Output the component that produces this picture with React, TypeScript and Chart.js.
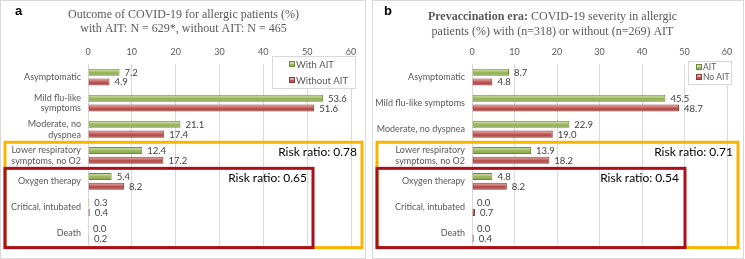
import React, { useEffect, useRef } from "react";
import { Chart, registerables } from "chart.js";

Chart.register(...registerables);

// ---------- DATA ----------
const categoriesA: (string | string[])[] = [
  "Asymptomatic",
  ["Mild flu-like", "symptoms"],
  ["Moderate, no", "dyspnea"],
  ["Lower respiratory", "symptoms, no O2"],
  "Oxygen therapy",
  "Critical, intubated",
  "Death",
];
const withAitA = [7.2, 53.6, 21.1, 12.4, 5.4, 0.3, 0.0];
const withoutAitA = [4.9, 51.6, 17.4, 17.2, 8.2, 0.4, 0.2];
const seriesNamesA = ["With AIT", "Without AIT"];
const titleLinesA = [
  [{ text: "Outcome of COVID-19 for allergic patients (%)", bold: false }],
  [{ text: "with AIT: N = 629*, without AIT: N = 465", bold: false }],
];
const riskRatiosA = ["Risk ratio: 0.78", "Risk ratio: 0.65"];

const categoriesB: (string | string[])[] = [
  "Asymptomatic",
  "Mild flu-like symptoms",
  "Moderate, no dyspnea",
  ["Lower respiratory", "symptoms, no O2"],
  "Oxygen therapy",
  "Critical, intubated",
  "Death",
];
const aitB = [8.7, 45.5, 22.9, 13.9, 4.8, 0.0, 0.0];
const noAitB = [4.8, 48.7, 19.0, 18.2, 8.2, 0.7, 0.4];
const seriesNamesB = ["AIT", "No AIT"];
const titleLinesB = [
  [
    { text: "Prevaccination era:", bold: true },
    { text: " COVID-19 severity in allergic", bold: false },
  ],
  [{ text: "patients (%) with (n=318) or without (n=269) AIT", bold: false }],
];
const riskRatiosB = ["Risk ratio: 0.71", "Risk ratio: 0.54"];

const xMin = 0;
const xMax = 60;
const xStep = 10;

// ---------- STYLE ----------
const GREEN = "#9bbb59";
const GREEN_DARK = "#6b8a35";
const RED = "#c0504d";
const RED_DARK = "#8c3836";
const GOLD = "#f7b500";
const CRIMSON = "#a8101c";
const GRAY_TEXT = "#595959";
const H = 259;

type Seg = { text: string; bold: boolean };

interface PanelCfg {
  left: number;
  width: number;
  yAxisWidth: number;
  padRight: number;
  redInset: number;
  letter: string;
  letterX: number;
  title: Seg[][];
  titleOffset: number;
  titleY: number[];
  categories: (string | string[])[];
  series: number[][];
  names: string[];
  risks: string[];
  legend: { x: number; y: number; w: number; h: number; itemY: number[]; sqX: number; txtX: number; font: number };
}

const decor = {
  id: "decor",
  beforeDraw(chart: any) {
    const c = chart.ctx;
    c.save();
    c.fillStyle = "#ffffff";
    c.fillRect(0, 0, chart.width, chart.height);
    c.restore();
  },
  afterDatasetsDraw(chart: any) {
    const ctx = chart.ctx;
    ctx.save();
    chart.data.datasets.forEach((ds: any, di: number) => {
      const meta = chart.getDatasetMeta(di);
      meta.data.forEach((el: any, i: number) => {
        const { x, y, base, height } = el.getProps(["x", "y", "base", "height"], true);
        const l = Math.min(x, base);
        const r = Math.max(x, base);
        const t = y - height / 2;
        if (r - l > 2) {
          const g = ctx.createLinearGradient(0, t, 0, t + height);
          g.addColorStop(0, "rgba(255,255,255,0.6)");
          g.addColorStop(0.45, "rgba(255,255,255,0.12)");
          g.addColorStop(0.6, "rgba(0,0,0,0)");
          g.addColorStop(1, "rgba(0,0,0,0.18)");
          ctx.fillStyle = g;
          ctx.fillRect(l + 1, t + 1, r - l - 2, height - 2);
        }
        ctx.fillStyle = "#404040";
        ctx.font = "9.5px Lato";
        ctx.textAlign = "left";
        ctx.textBaseline = "middle";
        ctx.fillText(Number(ds.data[i]).toFixed(1), r + 5, y + 0.5);
      });
    });
    ctx.restore();
  },
  afterDraw(chart: any, _args: any, o: any) {
    const ctx = chart.ctx;
    const cfg: PanelCfg = o.cfg;
    const area = chart.chartArea;
    const ys = chart.scales.y;
    const w = chart.width;
    ctx.save();

    // panel border
    ctx.strokeStyle = "#d9d9d9";
    ctx.lineWidth = 1;
    ctx.strokeRect(0.5, 0.5, w - 2, H - 1);

    // annotation boxes
    const yellowTop = (ys.getPixelForValue(2) + ys.getPixelForValue(3)) / 2;
    const redTop = (ys.getPixelForValue(3) + ys.getPixelForValue(4)) / 2;
    const bottom = area.bottom + 1;
    const leftEdge = 5;
    const yellowRight = area.right + 11;
    const redRight = area.right - cfg.redInset;
    ctx.lineWidth = 3;
    ctx.strokeStyle = GOLD;
    ctx.strokeRect(leftEdge, yellowTop, yellowRight - leftEdge, bottom - yellowTop);
    ctx.strokeStyle = CRIMSON;
    ctx.strokeRect(leftEdge, redTop, redRight - leftEdge, bottom - redTop);

    ctx.fillStyle = "#000000";
    ctx.font = "12px Lato";
    ctx.textAlign = "right";
    ctx.textBaseline = "middle";
    ctx.fillText(cfg.risks[0], yellowRight - 5, yellowTop + 9.5);
    ctx.fillText(cfg.risks[1], redRight - 6, redTop + 9.5);

    // legend
    const lg = cfg.legend;
    ctx.fillStyle = "#ffffff";
    ctx.fillRect(lg.x, lg.y, lg.w, lg.h);
    ctx.lineWidth = 1;
    ctx.strokeStyle = "#d9d9d9";
    ctx.strokeRect(lg.x + 0.5, lg.y + 0.5, lg.w, lg.h);
    chart.data.datasets.forEach((ds: any, di: number) => {
      const cy = lg.itemY[di];
      ctx.fillStyle = ds.backgroundColor;
      ctx.fillRect(lg.sqX, cy - 3, 6, 6);
      ctx.strokeStyle = ds.borderColor;
      ctx.strokeRect(lg.sqX + 0.5, cy - 2.5, 5, 5);
      ctx.fillStyle = "rgba(255,255,255,0.5)";
      ctx.fillRect(lg.sqX + 1, cy - 2, 4, 2);
      ctx.fillStyle = GRAY_TEXT;
      ctx.font = `${lg.font}px Lato`;
      ctx.textAlign = "left";
      ctx.textBaseline = "middle";
      ctx.fillText(ds.label, lg.txtX, cy + 0.5);
    });

    // title
    ctx.fillStyle = GRAY_TEXT;
    ctx.textBaseline = "middle";
    ctx.textAlign = "left";
    cfg.title.forEach((line, li) => {
      let total = 0;
      line.forEach((s) => {
        ctx.font = `${s.bold ? "bold " : ""}12px 'Liberation Serif'`;
        total += ctx.measureText(s.text).width;
      });
      let x = w / 2 + cfg.titleOffset - total / 2;
      line.forEach((s) => {
        ctx.font = `${s.bold ? "bold " : ""}12px 'Liberation Serif'`;
        ctx.fillText(s.text, x, cfg.titleY[li]);
        x += ctx.measureText(s.text).width;
      });
    });

    // panel letter
    ctx.fillStyle = "#000000";
    ctx.font = "bold 13px 'Liberation Sans'";
    ctx.textBaseline = "alphabetic";
    ctx.fillText(cfg.letter, cfg.letterX, 15);
    ctx.restore();
  },
};

function Panel({ cfg }: { cfg: PanelCfg }) {
  const ref = useRef<HTMLCanvasElement>(null);
  useEffect(() => {
    const chart = new Chart(ref.current as HTMLCanvasElement, {
      type: "bar",
      data: {
        labels: cfg.categories as any,
        datasets: [
          {
            label: cfg.names[0],
            data: cfg.series[0],
            backgroundColor: GREEN,
            borderColor: GREEN_DARK,
            borderWidth: 1,
            categoryPercentage: 0.75,
            barPercentage: 0.72,
          },
          {
            label: cfg.names[1],
            data: cfg.series[1],
            backgroundColor: RED,
            borderColor: RED_DARK,
            borderWidth: 1,
            categoryPercentage: 0.75,
            barPercentage: 0.72,
          },
        ],
      },
      options: {
        indexAxis: "y",
        animation: false,
        responsive: false,
        devicePixelRatio: 1,
        layout: { padding: { top: 42, right: cfg.padRight, bottom: 6, left: 0 } },
        scales: {
          x: {
            position: "top",
            min: xMin,
            max: xMax,
            ticks: { stepSize: xStep, color: GRAY_TEXT, font: { family: "Lato", size: 9 }, padding: 7 },
            grid: { color: "#d9d9d9", drawTicks: false },
            border: { display: false },
            afterFit: (s: any) => {
              s.height = 22;
            },
          },
          y: {
            ticks: { color: GRAY_TEXT, font: { family: "Lato", size: 9 }, padding: 7, autoSkip: false },
            grid: { display: false, drawTicks: false },
            border: { display: false },
            afterFit: (s: any) => {
              s.width = cfg.yAxisWidth;
            },
          },
        },
        plugins: {
          legend: { display: false },
          title: { display: false },
          tooltip: { enabled: false },
          decor: { cfg },
        } as any,
      },
      plugins: [decor as any],
    });
    return () => chart.destroy();
  }, []);
  return (
    <canvas
      ref={ref}
      width={cfg.width}
      height={H}
      style={{ position: "absolute", left: cfg.left, top: 0, width: cfg.width, height: H }}
    />
  );
}

const panelA: PanelCfg = {
  left: 0,
  width: 367,
  yAxisWidth: 88,
  padRight: 16,
  redInset: 38,
  letter: "a",
  letterX: 15,
  title: titleLinesA,
  titleOffset: 0,
  titleY: [15, 29],
  categories: categoriesA,
  series: [withAitA, withoutAitA],
  names: seriesNamesA,
  risks: riskRatiosA,
  legend: { x: 272, y: 56, w: 83, h: 32, itemY: [64, 80], sqX: 289, txtX: 296, font: 9.5 },
};

const panelB: PanelCfg = {
  left: 372,
  width: 373,
  yAxisWidth: 100,
  padRight: 18,
  redInset: 42,
  letter: "b",
  letterX: 12,
  title: titleLinesB,
  titleOffset: -6,
  titleY: [17, 32],
  categories: categoriesB,
  series: [aitB, noAitB],
  names: seriesNamesB,
  risks: riskRatiosB,
  legend: { x: 316, y: 61, w: 43, h: 23, itemY: [67, 77], sqX: 324, txtX: 331, font: 8.5 },
};

export default function App() {
  useEffect(() => {
    document.body.style.margin = "0";
  }, []);
  return (
    <div style={{ position: "relative", width: 745, height: H, overflow: "hidden", background: "#fff" }}>
      <Panel cfg={panelA} />
      <Panel cfg={panelB} />
    </div>
  );
}
